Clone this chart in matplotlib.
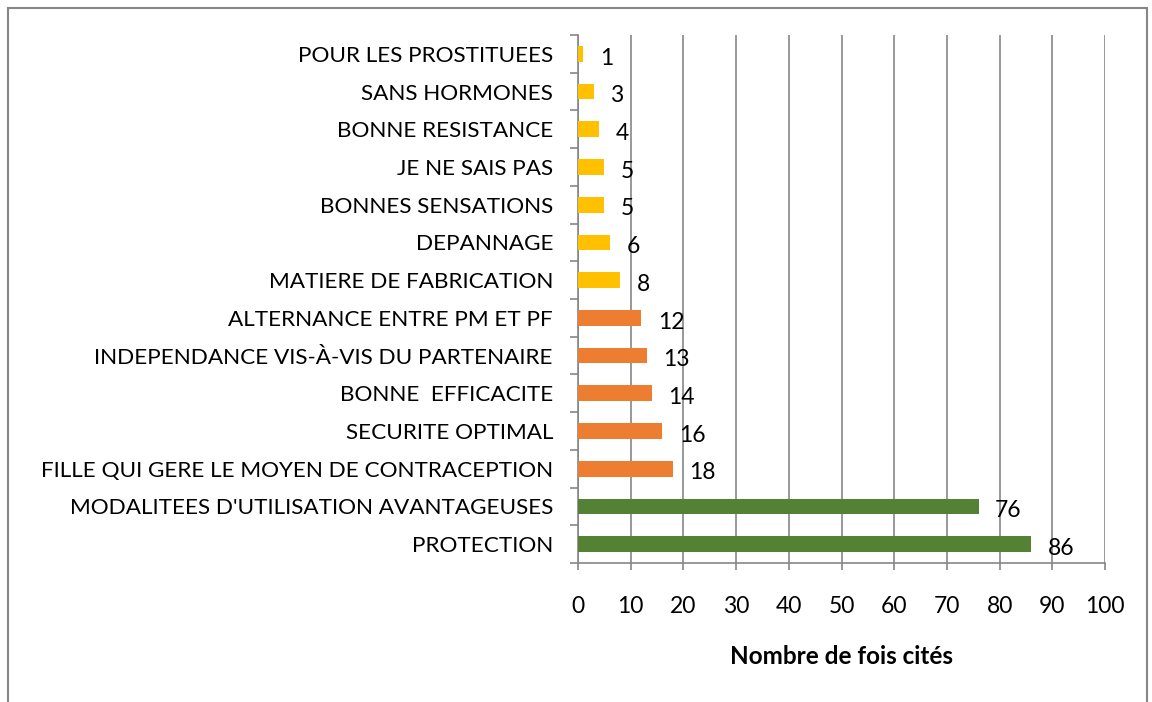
import matplotlib.pyplot as plt
from matplotlib.patches import Rectangle
import numpy as np

plt.rcParams['font.family'] = ['Lato', 'DejaVu Sans']

categories = ["POUR LES PROSTITUEES", "SANS HORMONES", "BONNE RESISTANCE",
              "JE NE SAIS PAS", "BONNES SENSATIONS", "DEPANNAGE",
              "MATIERE DE FABRICATION", "ALTERNANCE ENTRE PM ET PF",
              "INDEPENDANCE VIS-À-VIS DU PARTENAIRE", "BONNE  EFFICACITE",
              "SECURITE OPTIMAL", "FILLE QUI GERE LE MOYEN DE CONTRACEPTION",
              "MODALITEES D'UTILISATION AVANTAGEUSES", "PROTECTION"]
values = [1, 3, 4, 5, 5, 6, 8, 12, 13, 14, 16, 18, 76, 86]
groups = [0, 0, 0, 0, 0, 0, 0, 1, 1, 1, 1, 1, 2, 2]
group_colors = ['#FFC000', '#ED7D31', '#548235']

fig = plt.figure(figsize=(11.52, 7.02), dpi=100)
ax = fig.add_axes([578/1152, 1 - 563/702, 527/1152, 528/702])

y = np.arange(len(categories))
colors = [group_colors[g] for g in groups]
ax.barh(y, values, height=0.42, color=colors, zorder=3)

for yi, v in zip(y, values):
    ax.annotate(str(v), (v, yi), xytext=(12, -3), textcoords='offset points',
                va='center', ha='left', fontsize=16.5)

ax.set_xlim(0, 100)
ax.set_ylim(len(categories) - 0.5, -0.5)
ax.set_xticks(range(0, 101, 10))
ax.set_yticks(y)
ax.set_yticklabels(categories)
ax.set_yticks(np.arange(-0.5, len(categories)), minor=True)
ax.tick_params(axis='y', which='major', length=0, pad=18, labelsize=16.2)
ax.tick_params(axis='y', which='minor', length=6, color='#868686', width=1.2)
ax.tick_params(axis='x', length=5, color='#868686', width=1.2, pad=19, labelsize=16.5)

ax.grid(axis='x', color='#868686', linewidth=1.2, zorder=0)
for s in ['top', 'right']:
    ax.spines[s].set_visible(False)
for s in ['left', 'bottom']:
    ax.spines[s].set_color('#868686')
    ax.spines[s].set_linewidth(1.2)

ax.set_xlabel('Nombre de fois cités', fontsize=17.5, fontweight='bold', labelpad=20)

fig.patches.append(Rectangle((8/1152, -0.05), 1139/1152, 1 - 8/702 + 0.05,
                             transform=fig.transFigure, fill=False,
                             edgecolor='#868686', linewidth=1.5))

fig.savefig('out.png', dpi=100)
